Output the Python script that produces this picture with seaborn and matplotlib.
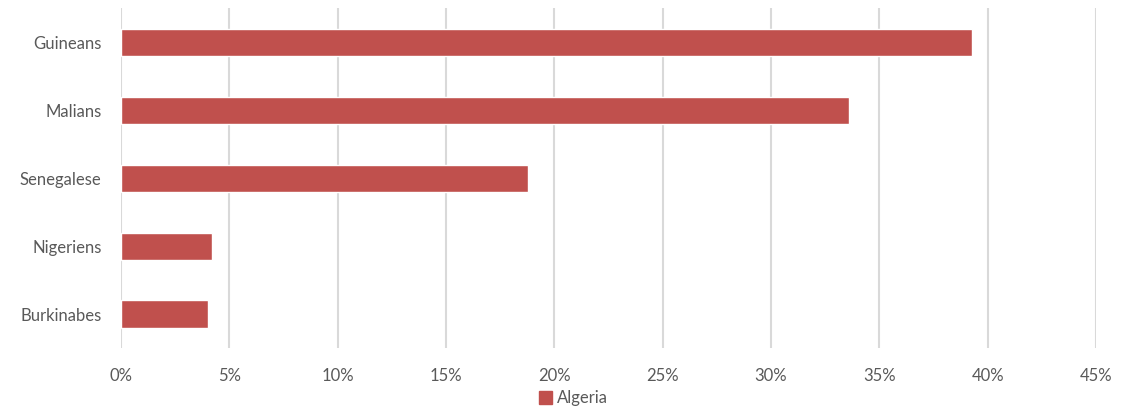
import pandas as pd
import matplotlib.pyplot as plt
import seaborn as sns
from matplotlib.ticker import FuncFormatter
from matplotlib.patches import Patch

groups = ['Guineans', 'Malians', 'Senegalese', 'Nigeriens', 'Burkinabes']
shares = [39.3, 33.6, 18.8, 4.2, 4.0]
series_name = 'Algeria'

data = pd.DataFrame({'group': groups, 'share': shares})

sns.set_style('white')
plt.rcParams['font.family'] = ['Lato', 'DejaVu Sans']

fig = plt.figure(figsize=(11.31, 4.09), dpi=100)
ax = fig.add_axes([0.107, 0.149, 0.862, 0.831])

sns.barplot(data=data, x='share', y='group', orient='h', color='#c0504d',
            saturation=1, width=0.4, ax=ax, zorder=3)

ax.set_xlim(0, 45)
ax.set_ylim(4.5, -0.5)
ax.set_xticks(range(0, 50, 5))
ax.xaxis.set_major_formatter(FuncFormatter(lambda v, p: f'{v:.0f}%'))
ax.grid(axis='x', color='#d9d9d9', linewidth=1.5, zorder=0)
ax.grid(axis='y', visible=False)
for s in ax.spines.values():
    s.set_visible(False)
ax.set_xlabel('')
ax.set_ylabel('')
ax.tick_params(axis='both', length=0, labelsize=12, labelcolor='#595959')
ax.tick_params(axis='x', pad=14)
ax.tick_params(axis='y', pad=14)

fig.legend(handles=[Patch(color='#c0504d', label=series_name)],
           loc='center', bbox_to_anchor=(0.507, 0.027), frameon=False,
           fontsize=12, labelcolor='#595959', handlelength=0.8,
           handleheight=0.8, handletextpad=0.3)

fig.savefig('out.png', dpi=100)
